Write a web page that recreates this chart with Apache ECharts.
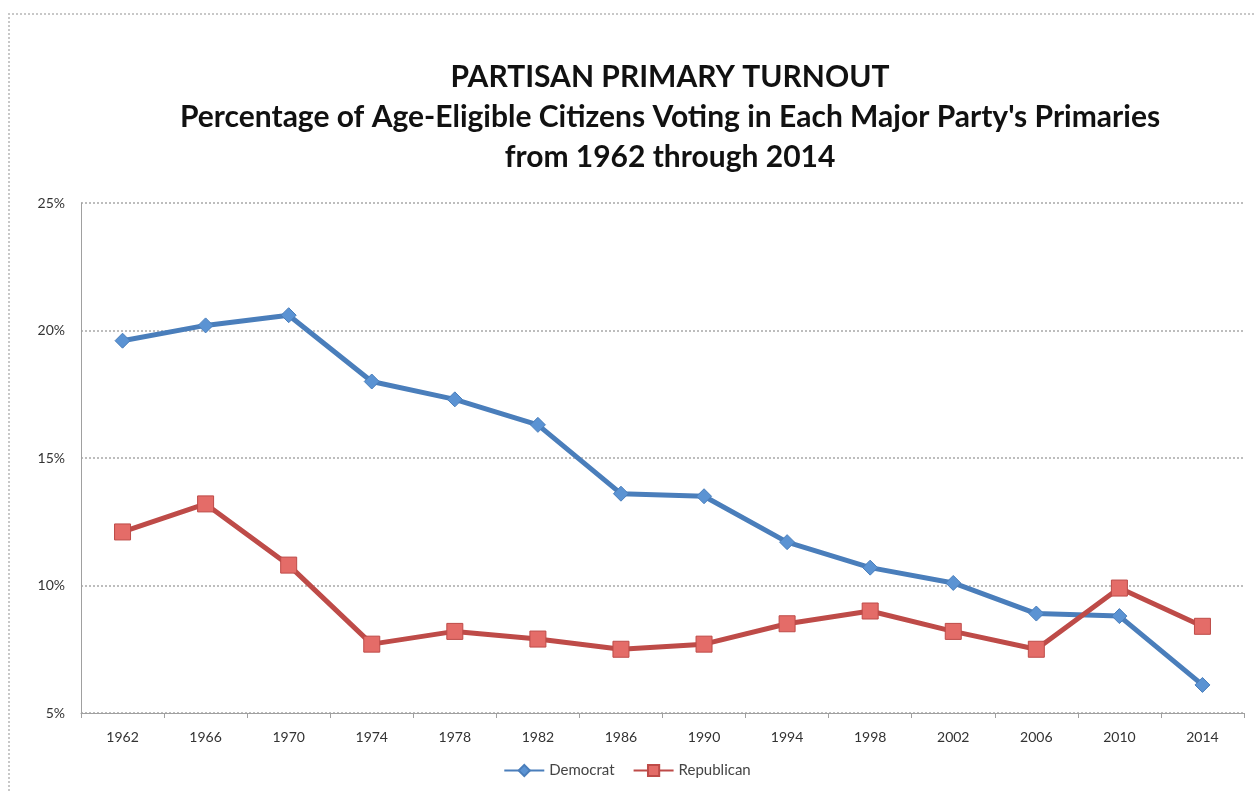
<!DOCTYPE html>
<html><head><meta charset="utf-8">
<script src="https://cdn.jsdelivr.net/npm/echarts@6/dist/echarts.min.js"></script>
<style>
html,body{margin:0;padding:0;background:#fff;}
#frame{position:absolute;left:8px;top:13px;width:1300px;height:900px;border-left:2px dotted #c8c8c8;border-top:2px dotted #c8c8c8;}
#c{position:absolute;left:0;top:0;width:1254px;height:793px;}
</style></head>
<body>
<div id="frame"></div>
<div id="c"></div>
<script>
var years = ['1962','1966','1970','1974','1978','1982','1986','1990','1994','1998','2002','2006','2010','2014'];
var democrat = [19.6,20.2,20.6,18.0,17.3,16.3,13.6,13.5,11.7,10.7,10.1,8.9,8.8,6.1];
var republican = [12.1,13.2,10.8,7.7,8.2,7.9,7.5,7.7,8.5,9.0,8.2,7.5,9.9,8.4];
var yTicks = [5,10,15,20,25];

var chart = echarts.init(document.getElementById('c'));
chart.setOption({
  animation:false,
  backgroundColor:'transparent',
  title:{
    text:'PARTISAN PRIMARY TURNOUT\nPercentage of Age-Eligible Citizens Voting in Each Major Party\'s Primaries\nfrom 1962 through 2014',
    left:665, top:52, textAlign:'center',
    textStyle:{fontFamily:'Lato',fontWeight:'bold',fontSize:30,lineHeight:40,color:'#111'}
  },
  legend:{
    bottom:10, left:'center', itemGap:18, itemWidth:40, itemHeight:14,
    textStyle:{fontFamily:'Lato',fontSize:15,color:'#444'},
    data:['Democrat','Republican']
  },
  grid:{left:81,right:10,top:203,bottom:80},
  xAxis:{
    type:'category', data:years, boundaryGap:true,
    axisLine:{lineStyle:{color:'#a0a0a0',width:1}},
    axisTick:{show:true,length:5,lineStyle:{color:'#a0a0a0'}},
    axisLabel:{fontFamily:'Lato',fontSize:14,color:'#333',margin:17}
  },
  yAxis:{
    type:'value', min:5, max:25, interval:5,
    axisLine:{show:true,lineStyle:{color:'#a0a0a0',width:1}},
    axisTick:{show:false},
    axisLabel:{fontFamily:'Lato',fontSize:14,color:'#333',margin:16,formatter:function(v){return v+'%';}},
    splitLine:{lineStyle:{color:'#bdbdbd',width:2,type:'dotted'}}
  },
  series:[
    {name:'Democrat',type:'line',data:democrat,symbol:'diamond',symbolSize:15,
     lineStyle:{color:'#4A7EBB',width:5},itemStyle:{color:'#5B93D3',borderColor:'#4A7EBB',borderWidth:1},color:'#4A7EBB'},
    {name:'Republican',type:'line',data:republican,symbol:'rect',symbolSize:16,
     lineStyle:{color:'#BE4B48',width:5},itemStyle:{color:'#E46C68',borderColor:'#BE4B48',borderWidth:1},color:'#BE4B48'}
  ]
});
</script>
</body></html>
